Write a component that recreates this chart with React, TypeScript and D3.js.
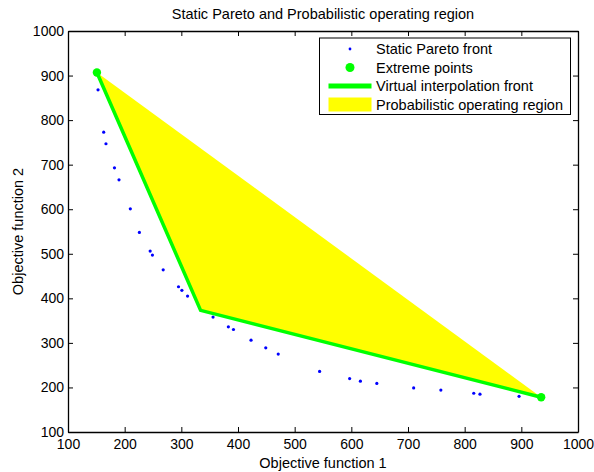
import React, { useEffect, useRef } from 'react';
import * as d3 from 'd3';

// Static Pareto front samples (objective 1, objective 2)
const paretoF1 = [153, 163, 167, 182, 190, 210, 226, 245, 249, 268, 295, 301, 311, 356, 383, 392, 423, 449, 471, 544, 597, 616, 645, 710, 758, 816, 827, 896];
const paretoF2 = [868, 773, 747, 693, 666, 601, 548, 506, 497, 464, 426, 418, 405, 358, 336, 330, 306, 289, 275, 236, 220, 214, 209, 199, 194, 187, 185, 180];

// extreme points and the virtual interpolation front
const extremeF1 = [151, 935];
const extremeF2 = [907, 178];
const frontF1 = [151, 334, 935];
const frontF2 = [907, 373, 178];

const xTicks = [100, 200, 300, 400, 500, 600, 700, 800, 900, 1000];
const yTicks = [100, 200, 300, 400, 500, 600, 700, 800, 900, 1000];

const legendLabels = ['Static Pareto front', 'Extreme points', 'Virtual interpolation front', 'Probabilistic operating region'];

const W = 594;
const H = 472;
const FONT = '"Liberation Sans", Arial, sans-serif';

const App = () => {
    const ref = useRef<SVGSVGElement>(null);

    useEffect(() => {
        const svg = d3.select(ref.current);
        svg.selectAll('*').remove();

        const margin = { top: 31, right: 16, bottom: 40, left: 68 };
        const width = W - margin.left - margin.right;
        const height = H - margin.top - margin.bottom;

        const x = d3.scaleLinear().domain([100, 1000]).range([0, width]);
        const y = d3.scaleLinear().domain([100, 1000]).range([height, 0]);

        const g = svg.append('g').attr('transform', `translate(${margin.left},${margin.top})`);

        // yellow region
        const region = d3.line<number>()
            .x((_, i) => x(frontF1[i]))
            .y(d => y(d));
        g.append('path')
            .attr('d', region(frontF2) + 'Z')
            .attr('fill', '#ffff00');

        // pareto dots
        paretoF1.forEach((v, i) => {
            g.append('circle')
                .attr('cx', x(v))
                .attr('cy', y(paretoF2[i]))
                .attr('r', 1.6)
                .attr('fill', '#0000ff');
        });

        // virtual interpolation front
        g.append('path')
            .datum(frontF2)
            .attr('d', region)
            .attr('fill', 'none')
            .attr('stroke', '#00ff00')
            .attr('stroke-width', 3.5)
            .attr('stroke-linejoin', 'miter');

        // extreme points
        extremeF1.forEach((v, i) => {
            g.append('circle')
                .attr('cx', x(v))
                .attr('cy', y(extremeF2[i]))
                .attr('r', 4.2)
                .attr('fill', '#00ff00');
        });

        // axes, ticks pointing inwards, box all round
        const styleAxis = (a: any) => {
            a.select('.domain').attr('stroke', '#000').attr('stroke-width', 1.3);
            a.selectAll('.tick line').attr('stroke', '#000');
            a.selectAll('text').attr('fill', '#000').style('font-size', '14px').style('font-family', FONT);
        };

        const fmt = d3.format('d');

        const xb = g.append('g')
            .attr('transform', `translate(0,${height})`)
            .call(d3.axisBottom(x).tickValues(xTicks).tickFormat(fmt).tickSize(-5).tickSizeOuter(0).tickPadding(7));
        styleAxis(xb);

        const xt = g.append('g')
            .call(d3.axisTop(x).tickValues(xTicks).tickSize(-5).tickSizeOuter(0).tickFormat(() => ''));
        styleAxis(xt);

        const yl = g.append('g')
            .call(d3.axisLeft(y).tickValues(yTicks).tickFormat(fmt).tickSize(-5).tickSizeOuter(0).tickPadding(4));
        styleAxis(yl);

        const yr = g.append('g')
            .attr('transform', `translate(${width},0)`)
            .call(d3.axisRight(y).tickValues(yTicks).tickSize(-5).tickSizeOuter(0).tickFormat(() => ''));
        styleAxis(yr);

        // titles
        svg.append('text')
            .attr('x', margin.left + width / 2)
            .attr('y', 19)
            .attr('text-anchor', 'middle')
            .style('font-family', FONT)
            .style('font-size', '14.5px')
            .text('Static Pareto and Probabilistic operating region');

        svg.append('text')
            .attr('x', margin.left + width / 2)
            .attr('y', 468)
            .attr('text-anchor', 'middle')
            .style('font-family', FONT)
            .style('font-size', '14.5px')
            .text('Objective function 1');

        svg.append('text')
            .attr('transform', 'rotate(-90)')
            .attr('x', -(margin.top + height / 2))
            .attr('y', 23)
            .attr('text-anchor', 'middle')
            .style('font-family', FONT)
            .style('font-size', '14.5px')
            .text('Objective function 2');

        // legend
        const lg = svg.append('g').attr('transform', 'translate(319.5,38)');
        lg.append('rect')
            .attr('width', 251)
            .attr('height', 76.5)
            .attr('fill', '#fff')
            .attr('stroke', '#000')
            .attr('stroke-width', 1);

        const rowY = [11, 29.5, 48, 66.5];
        lg.append('circle').attr('cx', 30.5).attr('cy', rowY[0]).attr('r', 1.4).attr('fill', '#0000ff');
        lg.append('circle').attr('cx', 30.5).attr('cy', rowY[1]).attr('r', 4.5).attr('fill', '#00ff00');
        lg.append('line')
            .attr('x1', 9).attr('x2', 52)
            .attr('y1', rowY[2]).attr('y2', rowY[2])
            .attr('stroke', '#00ff00').attr('stroke-width', 5);
        lg.append('rect')
            .attr('x', 9).attr('y', rowY[3] - 7)
            .attr('width', 43).attr('height', 14)
            .attr('fill', '#ffff00');

        legendLabels.forEach((t, i) => {
            lg.append('text')
                .attr('x', 56.5)
                .attr('y', rowY[i] + 5)
                .style('font-family', FONT)
                .style('font-size', '14.5px')
                .text(t);
        });
    }, []);

    return (
        <svg ref={ref} width={W} height={H} style={{ position: 'absolute', left: 0, top: 0, background: '#fff' }} />
    );
};

export default App;
